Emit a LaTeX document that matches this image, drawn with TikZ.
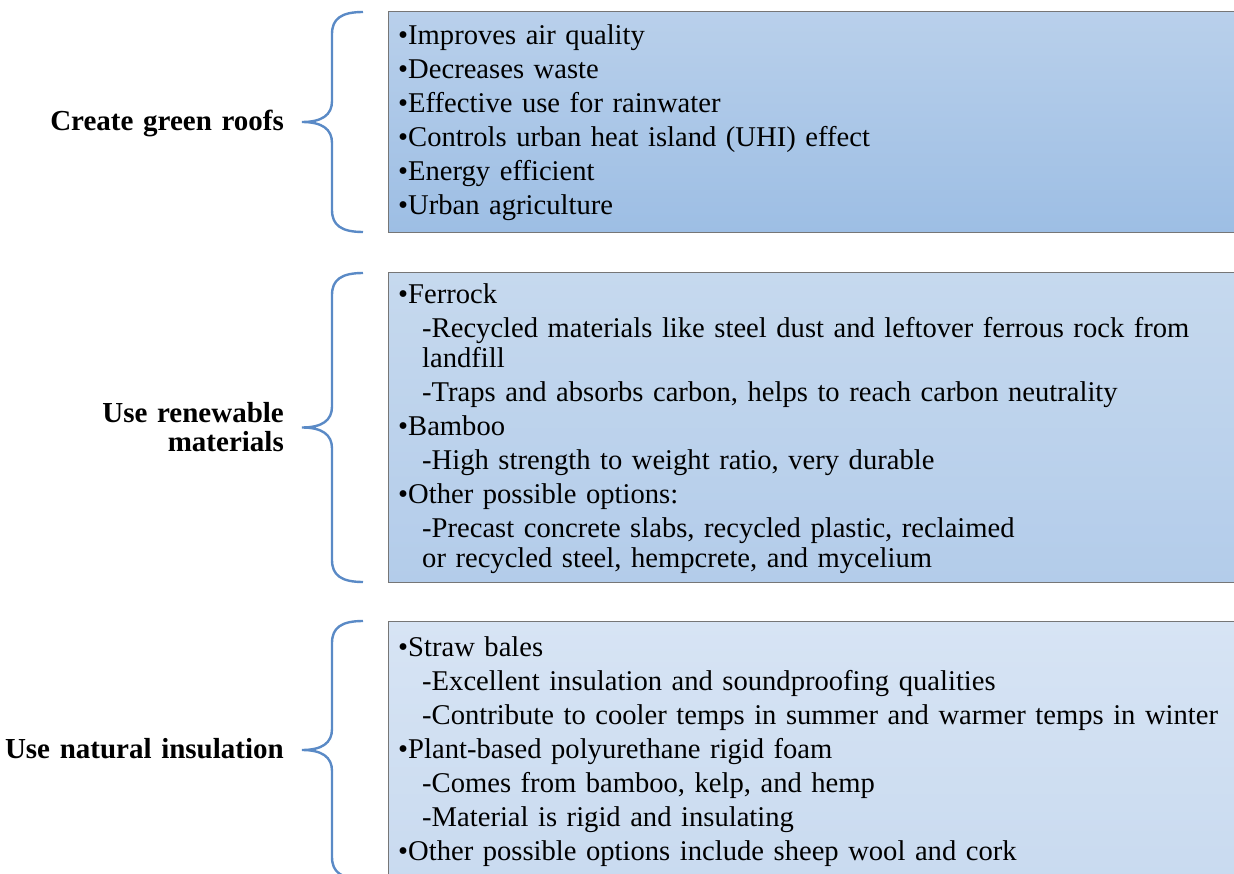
\documentclass[tikz,border=0pt]{standalone}
\usepackage{fontspec}
\setmainfont{Liberation Serif}
\definecolor{bracecol}{HTML}{5A8AC6}
\definecolor{edgecol}{HTML}{767676}
\newcommand{\subind}{\hspace*{24pt}}
\newcommand{\sidebrace}[2]{%
	\pgfmathsetmacro{\bmid}{(#1+#2)/2}
	\draw [bracecol, line width=2.4pt] (363,#1) .. controls (341,#1) and (332,#1+7) .. (332,#1+22) -- (332,\bmid-21) .. controls (332,\bmid-7) and (322,\bmid) .. (302,\bmid) .. controls (322,\bmid) and (332,\bmid+7) .. (332,\bmid+21) -- (332,#2-22) .. controls (332,#2-7) and (341,#2) .. (363,#2);
}

\begin{document}
\begin{tikzpicture}[x=1pt, y=-1pt]
		\tikzstyle{every node}+=[inner sep=0pt]
		\tikzstyle{panel}=[draw=edgecol, line width=1.4pt, anchor=north west, minimum width=870pt]
		\tikzstyle{items}=[anchor=base west, text width=840pt, align=left, font=\fontsize{28.6}{34}\selectfont]
		\tikzstyle{sidelabel}=[anchor=base east, text width=290pt, align=right, font=\fontsize{29}{29}\selectfont\bfseries]
		\useasboundingbox (0,0) rectangle (1234,874);
		\clip (0,0) rectangle (1234,874);
		% boxes
		\node [panel, minimum height=221pt, top color={rgb,255:red,185;green,208;blue,235}, bottom color={rgb,255:red,157;green,190;blue,228}] (roofbox) at (388,11) {};
		\node [panel, minimum height=310pt, top color={rgb,255:red,198;green,217;blue,238}, bottom color={rgb,255:red,179;green,204;blue,234}] (renewbox) at (388,272) {};
		\node [panel, minimum height=290pt, top color={rgb,255:red,215;green,228;blue,244}, bottom color={rgb,255:red,199;green,217;blue,239}] (insulbox) at (388,621) {};
		% braces
		\sidebrace{12}{232}
		\sidebrace{273}{582}
		\sidebrace{621}{879}
		% labels
		\node [sidelabel] (rooflabel) at (284,131) {Create green roofs};
		\node [sidelabel] (renewlabel) at (284,422) {Use renewable\\materials};
		\node [sidelabel] (insullabel) at (284,758) {Use natural insulation};
		% box texts
		\node [items] (roofitems) at (398,45) {•Improves air quality\\
			•Decreases waste\\
			•Effective use for rainwater\\
			•Controls urban heat island (UHI) effect\\
			•Energy efficient\\
			•Urban agriculture};
		\node [items] (renewitems) at (398,304) {•Ferrock\\
			\subind-Recycled materials like steel dust and leftover ferrous rock from\\[-4pt]
			\subind landfill\\
			\subind-Traps and absorbs carbon, helps to reach carbon neutrality\\
			•Bamboo\\
			\subind-High strength to weight ratio, very durable\\
			•Other possible options:\\
			\subind-Precast concrete slabs, recycled plastic, reclaimed\\[-4pt]
			\subind or recycled steel, hempcrete, and mycelium};
		\node [items] (insulitems) at (398,656) {•Straw bales\\
			\subind-Excellent insulation and soundproofing qualities\\
			\subind-Contribute to cooler temps in summer and warmer temps in winter\\
			•Plant-based polyurethane rigid foam\\
			\subind-Comes from bamboo, kelp, and hemp\\
			\subind-Material is rigid and insulating\\
			•Other possible options include sheep wool and cork};
\end{tikzpicture}
\end{document}
